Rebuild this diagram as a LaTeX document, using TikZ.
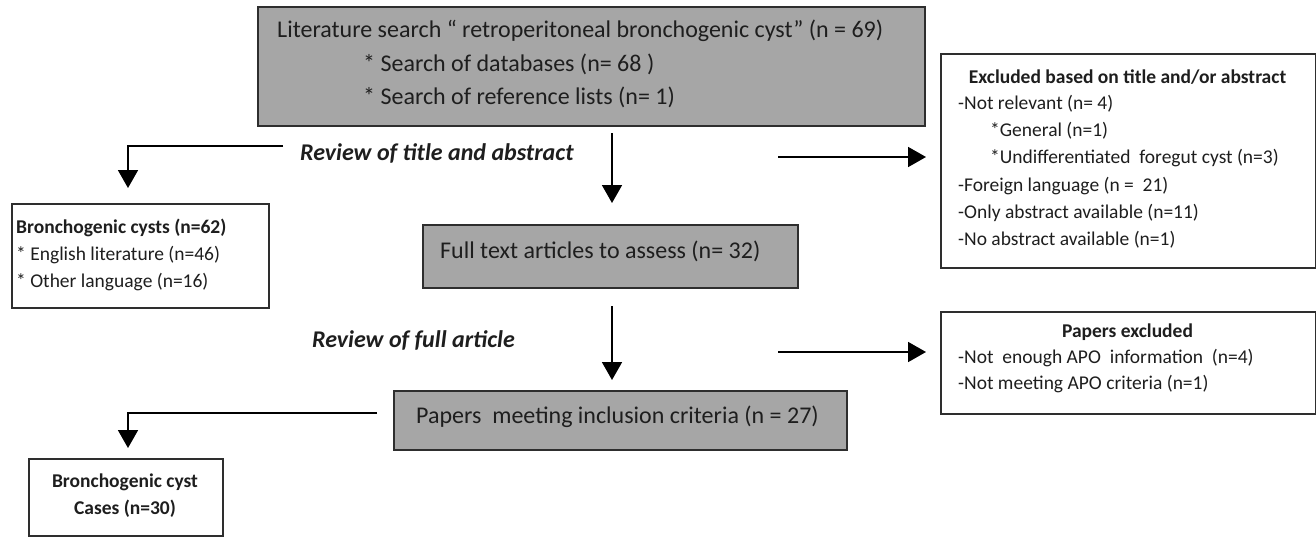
\documentclass[tikz,border=0pt]{standalone}
\usepackage{fontspec}
\setmainfont{Carlito}
\usetikzlibrary{arrows.meta}
\definecolor{boxgray}{HTML}{A6A6A6}
\definecolor{edgecol}{HTML}{2E2E2E}
\definecolor{txt}{HTML}{1E1E1E}
\begin{document}
\begin{tikzpicture}[x=1pt,y=-1pt,
  box/.style={draw=edgecol, line width=1.8pt, anchor=north west, inner sep=0pt},
  graybox/.style={box, fill=boxgray},
  whitebox/.style={box, fill=white},
  arr/.style={line width=1.8pt, -{Triangle[length=18pt,width=20pt]}},
  big/.style={font=\fontsize{24}{28}\selectfont, inner sep=0pt, text=txt},
  small/.style={font=\fontsize{19.5}{23}\selectfont, inner sep=0pt, text=txt},
  smallb/.style={font=\fontsize{19.5}{27}\selectfont\bfseries, inner sep=0pt, text=txt},
  lab/.style={font=\fontsize{24}{28}\selectfont\bfseries\itshape, inner sep=0pt, text=txt}]
\useasboundingbox (0,0) rectangle (1316,536);
% boxes
\node[graybox, minimum width=667pt, minimum height=119pt] (search) at (257,6) {};
\node[whitebox, minimum width=257pt, minimum height=104pt] (bronch) at (11,203) {};
\node[graybox, minimum width=375pt, minimum height=63pt] (fulltxt) at (422,224) {};
\node[whitebox, minimum width=375pt, minimum height=214pt] (excl) at (940,53) {};
\node[whitebox, minimum width=375pt, minimum height=102pt] (pexcl) at (940,311) {};
\node[graybox, minimum width=453pt, minimum height=59pt] (papers) at (393,390) {};
\node[whitebox, minimum width=194pt, minimum height=77pt] (cases) at (28,458) {};
% texts in the search box
\node[big, anchor=west] (s1) at (277,31) {Literature search “ retroperitoneal bronchogenic cyst” (n = 69)};
\node[big, anchor=west] (s2) at (363,64) {* Search of databases (n= 68 )};
\node[big, anchor=west] (s3) at (363,97) {* Search of reference lists (n= 1)};
% labels
\node[lab, anchor=west] (l1) at (300,153) {Review of title and abstract};
\node[lab, anchor=west] (l2) at (312,340) {Review of full article};
% bronch box
\node[smallb, anchor=west] (b1) at (16,228) {Bronchogenic cysts (n=62)};
\node[small, anchor=west] (b2) at (16,255) {* English literature (n=46)};
\node[small, anchor=west] (b3) at (16,282) {* Other language (n=16)};
% full text
\node[big, anchor=west] (f1) at (440,251) {Full text articles to assess (n= 32)};
% excluded box
\node[smallb] (e0) at (1127.5,77) {Excluded based on title and/or abstract};
\node[small, anchor=west] (e1) at (958,104) {-Not relevant (n= 4)};
\node[small, anchor=west] (e2) at (990,131) {*General (n=1)};
\node[small, anchor=west] (e3) at (990,158) {*Undifferentiated~ foregut cyst (n=3)};
\node[small, anchor=west] (e4) at (958,186) {-Foreign language (n =~ 21)};
\node[small, anchor=west] (e5) at (958,213) {-Only abstract available (n=11)};
\node[small, anchor=west] (e6) at (958,240) {-No abstract available (n=1)};
% papers excluded
\node[smallb] (p0) at (1127.5,332) {Papers excluded};
\node[small, anchor=west] (p1) at (958,358) {-Not~ enough APO~ information~ (n=4)};
\node[small, anchor=west] (p2) at (958,384) {-Not meeting APO criteria (n=1)};
% papers meeting
\node[big, anchor=west] (m1) at (416,417) {Papers~ meeting inclusion criteria (n = 27)};
% cases
\node[smallb, align=center] (c1) at (125,496) {Bronchogenic cyst\\Cases (n=30)};
% connector end points
\coordinate (a1s) at (612,133);
\coordinate (a1e) at (612,203);
\coordinate (lb1s) at (283,146);
\coordinate (lb1e) at (128,188);
\coordinate (r1s) at (778,157);
\coordinate (r1e) at (926,157);
\coordinate (a2s) at (612,306);
\coordinate (a2e) at (612,380);
\coordinate (r2s) at (778,352);
\coordinate (r2e) at (926,352);
\coordinate (lb2s) at (377,413);
\coordinate (lb2e) at (128,448);
% connectors
\draw[arr] (a1s) -- (a1e);
\draw[arr] (lb1s) -| (lb1e);
\draw[arr] (r1s) -- (r1e);
\draw[arr] (a2s) -- (a2e);
\draw[arr] (r2s) -- (r2e);
\draw[arr] (lb2s) -| (lb2e);
\end{tikzpicture}
\end{document}
